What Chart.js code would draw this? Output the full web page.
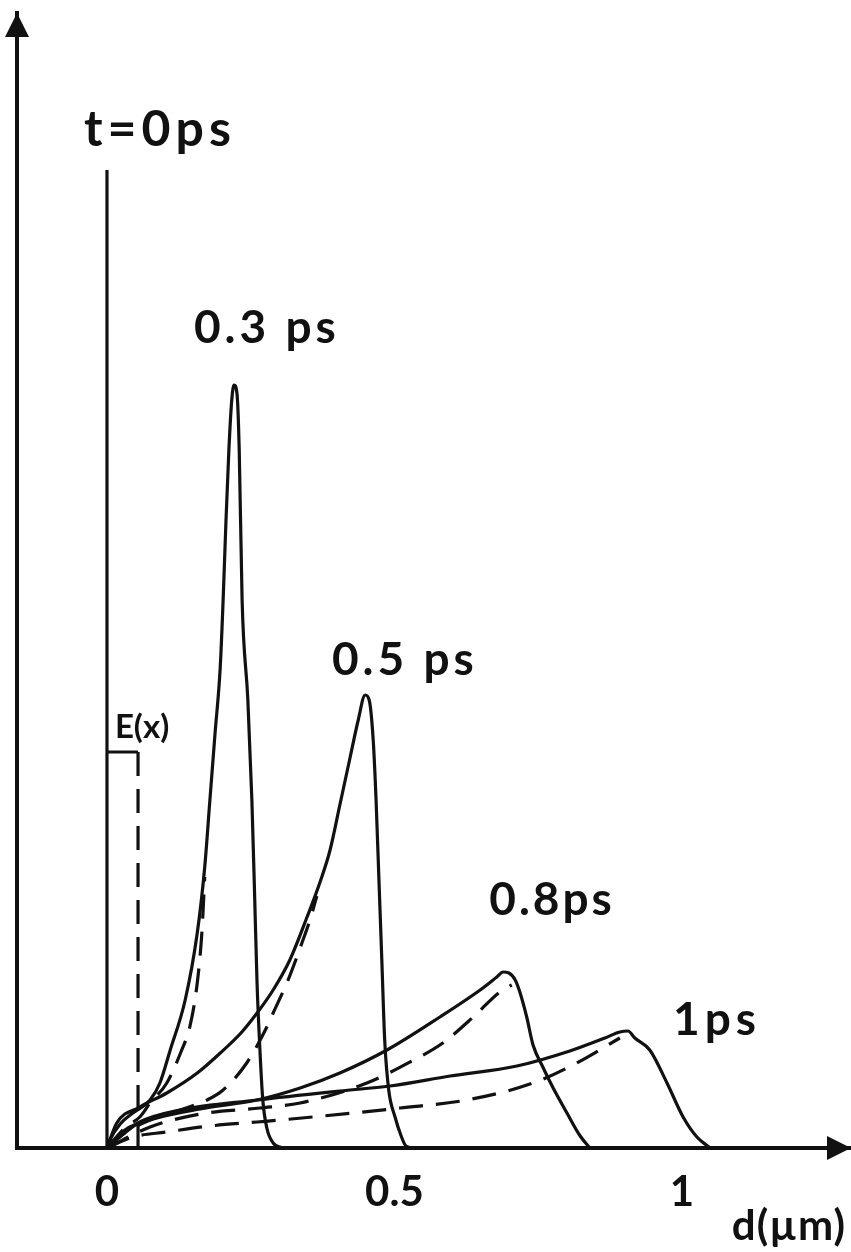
<!DOCTYPE html>
<html>
<head>
<meta charset="utf-8">
<script src="https://cdn.jsdelivr.net/npm/chart.js@4.4.1/dist/chart.umd.min.js"></script>
<style>
  html, body { margin: 0; padding: 0; background: #fff; }
  #wrap { width: 851px; height: 1252px; }
</style>
</head>
<body>
<div id="wrap"><canvas id="chart"></canvas></div>
<script>
  // x in µm, y in arbitrary units (carrier density)
  const xTicks = [0, 0.5, 1];

  // t = 0 ps : vertical line and the E(x) step
  const t0X = [0, 0];
  const t0Y = [0, 97.8];
  const stepX = [0, 0.054];
  const stepY = [39.6, 39.6];
  const stepDashX = [0.054, 0.054];
  const stepDashY = [39.6, 0];

  // t = 0.3 ps
  const s03X = [0, 0.005, 0.023, 0.045, 0.075, 0.092, 0.110, 0.136, 0.157, 0.170, 0.179, 0.188, 0.197, 0.202, 0.207, 0.212, 0.217, 0.221, 0.226, 0.230, 0.235, 0.245, 0.252, 0.257, 0.261, 0.266, 0.271, 0.278, 0.289, 0.304];
  const s03Y = [0, 0.8, 2.4, 3.5, 4.8, 6.5, 9.8, 14.8, 21.5, 28.1, 34.8, 41.5, 48.1, 54.8, 62.8, 69.8, 74.8, 76.3, 75.5, 69.8, 54.8, 44.8, 34.8, 24.8, 16.5, 9.8, 4.8, 2.0, 0.5, 0];
  const d03X = [0, 0.031, 0.057, 0.075, 0.104, 0.130, 0.144, 0.157, 0.165, 0.170];
  const d03Y = [0, 2.0, 3.1, 4.5, 6.5, 9.8, 12.1, 16.5, 21.5, 27.1];

  // t = 0.5 ps
  const s05X = [0, 0.017, 0.057, 0.104, 0.157, 0.197, 0.233, 0.261, 0.289, 0.318, 0.348, 0.370, 0.388, 0.405, 0.423, 0.437, 0.449, 0.456, 0.463, 0.468, 0.473, 0.478, 0.483, 0.490, 0.501, 0.511, 0.520, 0.534];
  const s05Y = [0, 2.5, 4.1, 5.5, 7.5, 9.5, 11.5, 13.5, 15.8, 18.8, 23.1, 26.5, 29.8, 34.3, 39.1, 42.8, 45.3, 44.8, 40.8, 34.8, 26.8, 18.8, 10.8, 5.8, 3.1, 1.3, 0.2, 0];
  const d05X = [0, 0.031, 0.075, 0.127, 0.174, 0.202, 0.243, 0.278, 0.289, 0.315, 0.339, 0.353, 0.365];
  const d05Y = [0, 1.5, 2.8, 3.8, 4.8, 5.8, 8.5, 12.1, 13.5, 16.8, 20.5, 22.8, 25.2];

  // t = 0.8 ps
  const s08X = [0, 0.031, 0.087, 0.162, 0.261, 0.336, 0.405, 0.487, 0.579, 0.649, 0.678, 0.689, 0.699, 0.710, 0.718, 0.730, 0.741, 0.758, 0.776, 0.800, 0.823, 0.840];
  const s08Y = [0, 1.8, 3.0, 3.9, 4.8, 6.0, 7.5, 9.8, 13.1, 15.8, 17.1, 17.6, 17.5, 16.8, 15.6, 13.1, 10.3, 8.1, 6.0, 3.5, 1.2, 0];
  const d08X = [0, 0.075, 0.162, 0.266, 0.336, 0.452, 0.527, 0.584, 0.637, 0.683, 0.704];
  const d08Y = [0, 2.1, 3.4, 4.0, 4.5, 6.5, 8.6, 10.5, 13.1, 15.6, 16.3];

  // t = 1 ps
  const s10X = [0, 0.031, 0.057, 0.127, 0.261, 0.405, 0.492, 0.597, 0.713, 0.805, 0.866, 0.892, 0.906, 0.918, 0.944, 0.974, 1.002, 1.026, 1.049];
  const s10Y = [0, 1.5, 2.6, 3.8, 4.8, 5.7, 6.2, 7.2, 8.2, 9.7, 11.0, 11.6, 11.7, 11.0, 9.8, 6.5, 3.1, 1.1, 0];
  const d10X = [0, 0.045, 0.104, 0.179, 0.261, 0.358, 0.510, 0.626, 0.741, 0.817, 0.892];
  const d10Y = [0, 1.1, 1.6, 2.2, 2.6, 3.1, 4.0, 4.8, 6.5, 8.5, 11.0];

  // text placed in data coordinates
  const notes = [
    { text: 't=0ps',  x: 0.092, y: 101.8, size: 50, spacing: 5 },
    { text: '0.3 ps', x: 0.278, y: 82.0,  size: 46, spacing: 4 },
    { text: '0.5 ps', x: 0.518, y: 48.8,  size: 46, spacing: 4 },
    { text: '0.8ps',  x: 0.774, y: 24.8,  size: 46, spacing: 3 },
    { text: '1ps',    x: 1.061, y: 12.8,  size: 46, spacing: 5 },
    { text: 'E(x)',   x: 0.061, y: 42.1,  size: 33, spacing: 0 },
    { text: 'd(µm)',  x: 1.186, y: -7.8,  size: 42, spacing: 1 }
  ];

  const ink = '#111111';
  const FONT = 'Lato, "DejaVu Sans", sans-serif';

  function zip(xs, ys) {
    return xs.map(function (x, i) { return { x: x, y: ys[i] }; });
  }

  function line(xs, ys, dashed, curved) {
    return {
      data: zip(xs, ys),
      borderColor: ink,
      borderWidth: 3.2,
      borderDash: dashed ? [24, 13] : [],
      pointRadius: 0,
      fill: false,
      cubicInterpolationMode: curved ? 'monotone' : 'default',
      tension: 0
    };
  }

  // axis arrows + annotations
  const figurePlugin = {
    id: 'figure',
    afterDraw: function (chart) {
      const ctx = chart.ctx;
      const a = chart.chartArea;
      const xs = chart.scales.x;
      const ys = chart.scales.y;
      ctx.save();
      ctx.fillStyle = ink;
      // y arrow head
      ctx.beginPath();
      ctx.moveTo(a.left, a.top);
      ctx.lineTo(a.left - 12, a.top + 24);
      ctx.lineTo(a.left + 12, a.top + 24);
      ctx.closePath();
      ctx.fill();
      // x arrow head
      ctx.beginPath();
      ctx.moveTo(a.right, a.bottom);
      ctx.lineTo(a.right - 24, a.bottom - 12);
      ctx.lineTo(a.right - 24, a.bottom + 12);
      ctx.closePath();
      ctx.fill();

      ctx.textAlign = 'center';
      ctx.textBaseline = 'middle';
      notes.forEach(function (n) {
        ctx.font = 'bold ' + n.size + 'px ' + FONT;
        ctx.letterSpacing = n.spacing + 'px';
        ctx.fillText(n.text, xs.getPixelForValue(n.x), ys.getPixelForValue(n.y));
      });
      ctx.restore();
    }
  };

  new Chart(document.getElementById('chart'), {
    type: 'line',
    data: {
      datasets: [
        line(t0X, t0Y, false, false),
        line(stepX, stepY, false, false),
        line(stepDashX, stepDashY, true, false),
        line(s03X, s03Y, false, true),
        line(d03X, d03Y, true, true),
        line(s05X, s05Y, false, true),
        line(d05X, d05Y, true, true),
        line(s08X, s08Y, false, true),
        line(d08X, d08Y, true, true),
        line(s10X, s10Y, false, true),
        line(d10X, d10Y, true, true)
      ]
    },
    options: {
      responsive: true,
      maintainAspectRatio: false,
      animation: false,
      layout: { padding: { left: 17, top: 13, right: 0, bottom: 0 } },
      plugins: {
        legend: { display: false },
        tooltip: { enabled: false }
      },
      scales: {
        x: {
          type: 'linear',
          min: -0.1565,
          max: 1.294,
          afterBuildTicks: function (scale) {
            scale.ticks = xTicks.map(function (v) { return { value: v }; });
          },
          afterFit: function (scale) { scale.height = 104; },
          grid: { display: false, drawTicks: false },
          border: { display: true, color: ink, width: 4 },
          ticks: {
            color: ink,
            padding: 19,
            maxRotation: 0,
            font: { family: FONT, size: 42, weight: 'bold' },
            callback: function (v) { return String(v); }
          }
        },
        y: {
          type: 'linear',
          min: 0,
          max: 113.5,
          grid: { display: false, drawTicks: false },
          border: { display: true, color: ink, width: 4 },
          ticks: { display: false }
        }
      }
    },
    plugins: [figurePlugin]
  });
</script>
</body>
</html>
